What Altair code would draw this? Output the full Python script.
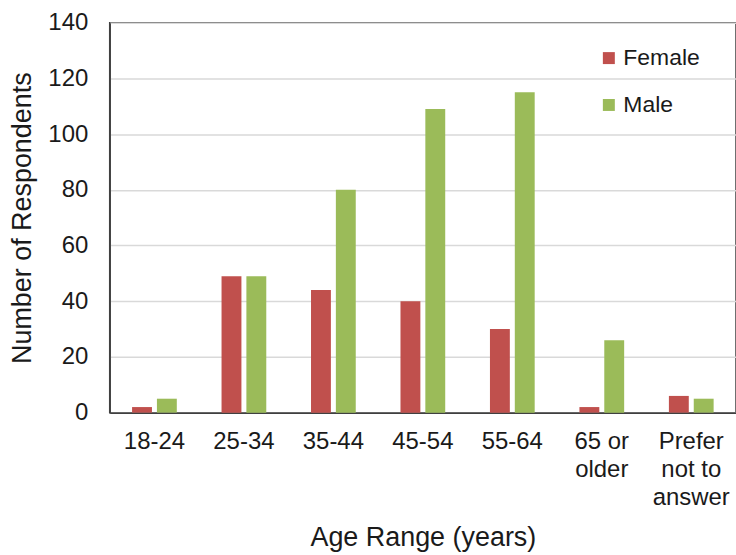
import altair as alt
import pandas as pd

# Respondent counts by age range and gender
age_ranges = ["18-24", "25-34", "35-44", "45-54", "55-64", "65 or|older", "Prefer|not to|answer"]
female = [2, 49, 44, 40, 30, 2, 6]
male = [5, 49, 80, 109, 115, 26, 5]
genders = ["Female", "Male"]
colors = ["#C0504D", "#9BBB59"]

rows = []
for i, age in enumerate(age_ranges):
    rows.append({"age": age, "gender": "Female", "count": female[i]})
    rows.append({"age": age, "gender": "Male", "count": male[i]})
df = pd.DataFrame(rows)

FONT = "Liberation Sans"
TEXT = "#1a1a1a"

chart = (
    alt.Chart(df)
    .mark_bar()
    .encode(
        x=alt.X(
            "age:N",
            sort=age_ranges,
            scale=alt.Scale(paddingInner=0.5, paddingOuter=0.25),
            axis=alt.Axis(
                title="Age Range (years)",
                labelExpr="split(datum.label, '|')",
                labelAngle=0,
                labelFontSize=24,
                labelLineHeight=28,
                labelPadding=17,
                labelLimit=0,
                ticks=False,
                titleFontSize=27,
                titlePadding=15,
                domainColor="#404040",
                domainWidth=1.5,
                grid=False,
            ),
        ),
        xOffset=alt.XOffset("gender:N", sort=genders, scale=alt.Scale(paddingInner=0.2, paddingOuter=0)),
        y=alt.Y(
            "count:Q",
            scale=alt.Scale(domain=[0, 140], nice=False),
            axis=alt.Axis(
                title="Number of Respondents",
                values=[0, 20, 40, 60, 80, 100, 120, 140],
                labelFontSize=24,
                labelPadding=22,
                ticks=False,
                titleFontSize=27,
                titlePadding=11,
                domainColor="#404040",
                domainWidth=1.5,
                gridColor="#d9d9d9",
                gridWidth=1.5,
            ),
        ),
        color=alt.Color(
            "gender:N",
            sort=genders,
            scale=alt.Scale(domain=genders, range=colors),
            legend=alt.Legend(
                title=None,
                orient="none",
                legendX=489,
                legendY=24,
                symbolType="square",
                symbolSize=144,
                symbolStrokeWidth=0,
                labelFontSize=23,
                labelOffset=3,
                rowPadding=23,
                padding=0,
            ),
        ),
    )
    .properties(
        width=628,
        height=391,
        autosize=alt.AutoSizeParams(type="none"),
        padding={"left": 110, "top": 22, "right": 0, "bottom": 142},
    )
    .configure_view(stroke="#404040", strokeWidth=1.5)
    .configure_axis(labelFont=FONT, titleFont=FONT, labelColor=TEXT, titleColor=TEXT, titleFontWeight="normal")
    .configure_legend(labelFont=FONT, labelColor=TEXT)
)

chart.save("out.html", embed_options={"renderer": "svg", "actions": False})
